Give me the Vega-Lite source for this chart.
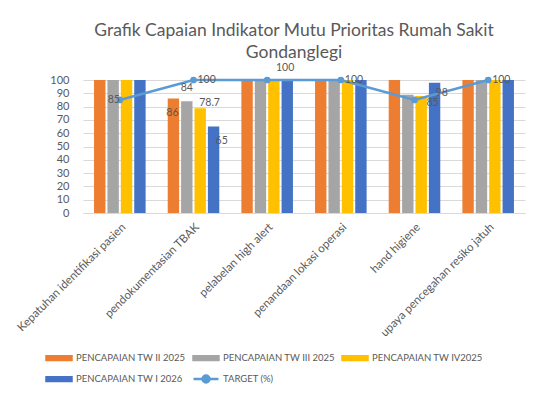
{
  "$schema": "https://vega.github.io/schema/vega-lite/v6.json",
  "autosize": "none",
  "width": 442,
  "height": 133,
  "padding": {"left": 83, "top": 80, "right": 27, "bottom": 196},
  "background": "white",
  "title": {
    "text": ["Grafik Capaian Indikator Mutu Prioritas Rumah Sakit", "Gondanglegi"],
    "font": "Lato",
    "fontSize": 17.5,
    "fontWeight": "normal",
    "color": "#595959",
    "anchor": "middle",
    "frame": "group",
    "dx": -10,
    "offset": 2,
    "lineHeight": 21.5
  },
  "datasets": {
    "bars": [
      {"kategori": "Kepatuhan identifikasi pasien", "seri": "PENCAPAIAN TW II 2025", "nilai": 100},
      {"kategori": "Kepatuhan identifikasi pasien", "seri": "PENCAPAIAN TW III 2025", "nilai": 100},
      {"kategori": "Kepatuhan identifikasi pasien", "seri": "PENCAPAIAN TW IV2025", "nilai": 100},
      {"kategori": "Kepatuhan identifikasi pasien", "seri": "PENCAPAIAN TW I 2026", "nilai": 100},
      {"kategori": "pendokumentasian TBAK", "seri": "PENCAPAIAN TW II 2025", "nilai": 86},
      {"kategori": "pendokumentasian TBAK", "seri": "PENCAPAIAN TW III 2025", "nilai": 84},
      {"kategori": "pendokumentasian TBAK", "seri": "PENCAPAIAN TW IV2025", "nilai": 78.7},
      {"kategori": "pendokumentasian TBAK", "seri": "PENCAPAIAN TW I 2026", "nilai": 65},
      {"kategori": "pelabelan high alert", "seri": "PENCAPAIAN TW II 2025", "nilai": 100},
      {"kategori": "pelabelan high alert", "seri": "PENCAPAIAN TW III 2025", "nilai": 100},
      {"kategori": "pelabelan high alert", "seri": "PENCAPAIAN TW IV2025", "nilai": 100},
      {"kategori": "pelabelan high alert", "seri": "PENCAPAIAN TW I 2026", "nilai": 100},
      {"kategori": "penandaan lokasi operasi", "seri": "PENCAPAIAN TW II 2025", "nilai": 100},
      {"kategori": "penandaan lokasi operasi", "seri": "PENCAPAIAN TW III 2025", "nilai": 100},
      {"kategori": "penandaan lokasi operasi", "seri": "PENCAPAIAN TW IV2025", "nilai": 100},
      {"kategori": "penandaan lokasi operasi", "seri": "PENCAPAIAN TW I 2026", "nilai": 100},
      {"kategori": "hand higiene", "seri": "PENCAPAIAN TW II 2025", "nilai": 100},
      {"kategori": "hand higiene", "seri": "PENCAPAIAN TW III 2025", "nilai": 89},
      {"kategori": "hand higiene", "seri": "PENCAPAIAN TW IV2025", "nilai": 88},
      {"kategori": "hand higiene", "seri": "PENCAPAIAN TW I 2026", "nilai": 98},
      {"kategori": "upaya pencegahan resiko jatuh", "seri": "PENCAPAIAN TW II 2025", "nilai": 100},
      {"kategori": "upaya pencegahan resiko jatuh", "seri": "PENCAPAIAN TW III 2025", "nilai": 100},
      {"kategori": "upaya pencegahan resiko jatuh", "seri": "PENCAPAIAN TW IV2025", "nilai": 100},
      {"kategori": "upaya pencegahan resiko jatuh", "seri": "PENCAPAIAN TW I 2026", "nilai": 100}
    ],
    "target": [
      {"kategori": "Kepatuhan identifikasi pasien", "seri": "TARGET (%)", "nilai": 85},
      {"kategori": "pendokumentasian TBAK", "seri": "TARGET (%)", "nilai": 100},
      {"kategori": "pelabelan high alert", "seri": "TARGET (%)", "nilai": 100},
      {"kategori": "penandaan lokasi operasi", "seri": "TARGET (%)", "nilai": 100},
      {"kategori": "hand higiene", "seri": "TARGET (%)", "nilai": 85},
      {"kategori": "upaya pencegahan resiko jatuh", "seri": "TARGET (%)", "nilai": 100}
    ]
  },
  "encoding": {
    "x": {
      "field": "kategori",
      "type": "nominal",
      "sort": null,
      "title": null,
      "scale": {"paddingInner": 0.3, "paddingOuter": 0.15},
      "axis": {
        "labelAngle": -45,
        "labelPadding": 8,
        "ticks": false,
        "domainColor": "#d9d9d9",
        "labelFont": "Lato",
        "labelFontSize": 11.5,
        "labelColor": "#595959"
      }
    },
    "y": {
      "field": "nilai",
      "type": "quantitative",
      "title": null,
      "scale": {"domain": [0, 100], "nice": false},
      "axis": {
        "values": [0, 10, 20, 30, 40, 50, 60, 70, 80, 90, 100],
        "domain": false,
        "ticks": false,
        "labelPadding": 14,
        "gridColor": "#d9d9d9",
        "labelFont": "Lato",
        "labelFontSize": 11,
        "labelColor": "#595959"
      }
    }
  },
  "layer": [
    {
      "data": {"name": "bars"},
      "mark": {"type": "bar"},
      "encoding": {
        "xOffset": {
          "field": "seri",
          "sort": null,
          "scale": {"paddingInner": 0.15, "paddingOuter": 0}
        },
        "color": {
          "field": "seri",
          "type": "nominal",
          "title": null,
          "scale": {
            "domain": ["PENCAPAIAN TW II 2025", "PENCAPAIAN TW III 2025", "PENCAPAIAN TW IV2025", "PENCAPAIAN TW I 2026", "TARGET (%)"],
            "range": ["#ED7D31", "#A5A5A5", "#FFC000", "#4472C4", "#5B9BD5"]
          },
          "legend": {
            "orient": "none",
            "legendX": -38,
            "legendY": 264,
            "direction": "horizontal",
            "columns": 3,
            "columnPadding": 2,
            "rowPadding": -2,
            "symbolType": "M-1,-0.24H1V0.24H-1Z",
            "symbolSize": 625,
            "symbolOffset": 0,
            "labelOffset": 3,
            "labelFont": "Lato",
            "labelFontSize": 9.5,
            "labelColor": "#595959",
            "encode": {
              "symbols": {
                "update": {
                  "shape": {"signal": "datum.value === 'TARGET (%)' ? 'M-1,0H1M0.28,0A0.28,0.28 0 1,1 -0.28,0A0.28,0.28 0 1,1 0.28,0Z' : 'M-1,-0.15H1V0.15H-1Z'"},
                  "stroke": {"signal": "datum.value === 'TARGET (%)' ? '#5B9BD5' : 'transparent'"},
                  "strokeWidth": {"value": 2.5},
                  "opacity": {"value": 1},
                  "fillOpacity": {"value": 1}
                }
              }
            }
          }
        }
      }
    },
    {
      "data": {"name": "target"},
      "mark": {"type": "line", "strokeWidth": 2.5, "point": {"filled": true, "size": 45, "opacity": 1}},
      "encoding": {
        "color": {"field": "seri", "type": "nominal"}
      }
    },
    {
      "data": {"name": "target"},
      "transform": [{"filter": "datum.kategori === 'Kepatuhan identifikasi pasien'"}],
      "mark": {"type": "text", "align": "right", "baseline": "middle", "dx": 0, "dy": 0, "font": "Lato", "fontSize": 10.5, "color": "#595959"},
      "encoding": {"text": {"field": "nilai"}}
    },
    {
      "data": {"name": "target"},
      "transform": [{"filter": "indexof(['pendokumentasian TBAK', 'penandaan lokasi operasi', 'upaya pencegahan resiko jatuh'], datum.kategori) >= 0"}],
      "mark": {"type": "text", "align": "left", "baseline": "middle", "dx": 4, "dy": 0, "font": "Lato", "fontSize": 10.5, "color": "#595959"},
      "encoding": {"text": {"field": "nilai"}}
    },
    {
      "data": {"name": "target"},
      "transform": [{"filter": "datum.kategori === 'pelabelan high alert'"}],
      "mark": {"type": "text", "align": "center", "baseline": "middle", "dx": 18, "dy": -12, "font": "Lato", "fontSize": 10.5, "color": "#595959"},
      "encoding": {"text": {"field": "nilai"}}
    },
    {
      "data": {"name": "target"},
      "transform": [{"filter": "datum.kategori === 'hand higiene'"}],
      "mark": {"type": "text", "align": "left", "baseline": "middle", "dx": 12, "dy": 3, "font": "Lato", "fontSize": 10.5, "color": "#595959"},
      "encoding": {"text": {"field": "nilai"}}
    },
    {
      "data": {"name": "bars"},
      "transform": [{"filter": "datum.kategori === 'pendokumentasian TBAK' && datum.seri === 'PENCAPAIAN TW II 2025'"}],
      "mark": {"type": "text", "align": "center", "baseline": "middle", "dx": -1, "dy": 14, "font": "Lato", "fontSize": 10.5, "color": "#595959"},
      "encoding": {"xOffset": {"field": "seri", "sort": null}, "text": {"field": "nilai"}}
    },
    {
      "data": {"name": "bars"},
      "transform": [{"filter": "datum.kategori === 'pendokumentasian TBAK' && datum.seri === 'PENCAPAIAN TW III 2025'"}],
      "mark": {"type": "text", "align": "center", "baseline": "middle", "dx": 0, "dy": -13, "font": "Lato", "fontSize": 10.5, "color": "#595959"},
      "encoding": {"xOffset": {"field": "seri", "sort": null}, "text": {"field": "nilai"}}
    },
    {
      "data": {"name": "bars"},
      "transform": [{"filter": "datum.kategori === 'pendokumentasian TBAK' && datum.seri === 'PENCAPAIAN TW IV2025'"}],
      "mark": {"type": "text", "align": "left", "baseline": "middle", "dx": -1, "dy": -5, "font": "Lato", "fontSize": 10.5, "color": "#595959"},
      "encoding": {"xOffset": {"field": "seri", "sort": null}, "text": {"field": "nilai"}}
    },
    {
      "data": {"name": "bars"},
      "transform": [{"filter": "datum.seri === 'PENCAPAIAN TW I 2026' && datum.kategori === 'pendokumentasian TBAK'"}],
      "mark": {"type": "text", "align": "left", "baseline": "middle", "dx": 2, "dy": 14, "font": "Lato", "fontSize": 10.5, "color": "#595959"},
      "encoding": {"xOffset": {"field": "seri", "sort": null}, "text": {"field": "nilai"}}
    },
    {
      "data": {"name": "bars"},
      "transform": [{"filter": "datum.seri === 'PENCAPAIAN TW I 2026' && datum.kategori === 'hand higiene'"}],
      "mark": {"type": "text", "align": "left", "baseline": "middle", "dx": 1, "dy": 10, "font": "Lato", "fontSize": 10.5, "color": "#595959"},
      "encoding": {"xOffset": {"field": "seri", "sort": null}, "text": {"field": "nilai"}}
    }
  ],
  "config": {
    "view": {"stroke": null},
    "axis": {"gridWidth": 1}
  }
}
